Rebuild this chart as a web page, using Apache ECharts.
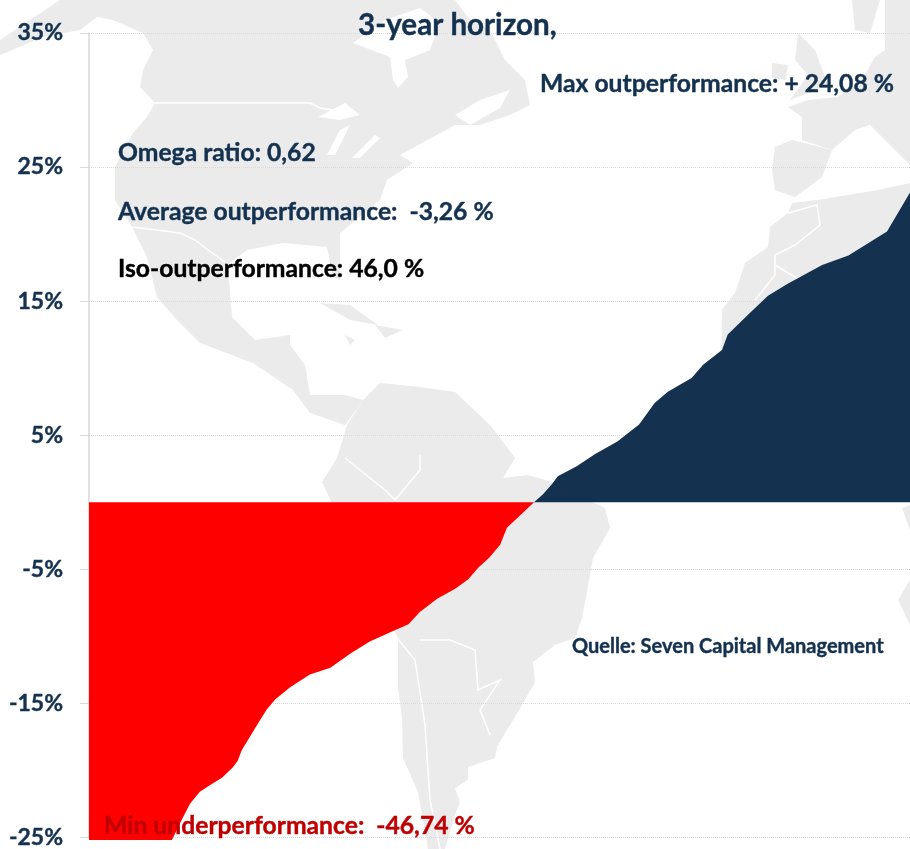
<!DOCTYPE html>
<html lang="en">

<head>
    <meta charset="UTF-8">
    <title>3-year horizon</title>
    <script src="https://cdn.jsdelivr.net/npm/echarts@6/dist/echarts.min.js"></script>
    <style>
        html, body { margin: 0; padding: 0; background: #fff; }
        #chart { width: 910px; height: 849px; }
    </style>
</head>

<body>
    <div id="chart"></div>
    <script>
        const underShare = [0, 10.1, 11.3, 12.3, 13.5, 14.9, 16.2, 17.5, 18.1, 18.6, 19.6, 20.6, 21.6, 22.7, 24.5, 26.9, 29.4, 31.8, 34.2, 36.7, 38.9, 40.3, 42.4, 44.6, 46.2, 47.4, 48.8, 50.1, 50.9, 52.3, 54.2];
        const underValues = [-25.2, -25.2, -23.7, -22.5, -21.6, -21.05, -20.55, -19.8, -19.3, -18.5, -17.5, -16.5, -15.5, -14.7, -13.8, -12.85, -12.35, -11.3, -10.4, -9.7, -9.1, -8.2, -7.2, -6.45, -5.75, -4.9, -4.1, -3.15, -1.9, -1.1, 0];
        const overShare = [54.2, 55.3, 56.4, 57.1, 59.4, 61.6, 64.4, 67.0, 68.9, 70.5, 73.4, 74.8, 77.1, 77.8, 80.3, 82.7, 85.1, 89.3, 92.5, 97.2, 100];
        const overValues = [0, 0.6, 1.35, 1.93, 2.68, 3.57, 4.54, 5.8, 7.4, 8.24, 9.26, 10.26, 11.35, 12.5, 14, 15.4, 16.3, 17.7, 18.4, 20.2, 23.1];
        const tickValues = [-25, -15, -5, 5, 15, 25, 35];

        const navy = '#14324f';
        const land = '#ebebeb';

        // background world map, rough outlines in page pixels
        const landShapes = [
            // north america
            [[0, 55], [43, 37], [80, 30], [97, 17], [113, 20], [143, 33], [153, 50], [143, 70], [140, 87], [155, 103], [147, 117], [133, 133], [115, 167], [115, 200], [132, 227], [147, 257], [157, 297], [177, 320], [200, 343], [253, 363], [293, 390], [310, 413], [345, 425], [363, 400], [345, 395], [310, 395], [305, 365], [290, 345], [290, 335], [255, 340], [232, 317], [230, 290], [227, 265], [247, 250], [283, 243], [327, 247], [333, 277], [340, 280], [340, 233], [380, 200], [387, 180], [413, 163], [400, 155], [455, 125], [480, 125], [510, 115], [530, 105], [525, 80], [505, 60], [490, 30], [470, 20], [455, 0], [130, 0], [60, 0], [15, 30], [0, 40]],
            // south america
            [[347, 425], [363, 400], [380, 383], [420, 387], [455, 392], [490, 425], [515, 458], [503, 478], [528, 475], [552, 482], [605, 508], [610, 528], [593, 558], [587, 592], [582, 618], [575, 638], [555, 645], [533, 662], [535, 682], [518, 712], [505, 733], [497, 747], [495, 758], [468, 767], [468, 780], [455, 788], [460, 802], [455, 815], [445, 849], [428, 849], [418, 792], [403, 758], [402, 718], [398, 688], [398, 638], [340, 520], [322, 482], [337, 458]],
            // iberia
            [[775, 147], [792, 140], [832, 150], [822, 177], [795, 197], [775, 190], [772, 170]],
            // europe
            [[788, 107], [808, 100], [838, 97], [862, 80], [875, 57], [885, 50], [885, 0], [910, 0], [910, 165], [895, 150], [870, 125], [855, 130], [832, 150], [802, 140], [802, 117]],
            // scandinavia
            [[852, 0], [880, 0], [870, 33], [855, 30]],
            // britain, ireland
            [[798, 33], [815, 50], [828, 85], [790, 100], [808, 75], [795, 60]],
            [[772, 63], [788, 65], [786, 80], [772, 78]],
            // africa
            [[792, 203], [817, 200], [878, 190], [910, 183], [910, 430], [720, 430], [722, 310], [735, 293], [745, 263], [768, 247], [770, 227], [788, 213]],
            [[910, 505], [902, 508], [910, 530]],
            [[910, 580], [898, 600], [910, 625]],
            // cuba, hispaniola
            [[320, 303], [350, 305], [378, 325], [350, 320]],
            [[375, 325], [403, 330], [385, 338]],
            [[345, 335], [355, 340], [350, 345]]
        ];
        const waterShapes = [
            // hudson bay
            [[353, 43], [390, 57], [393, 80], [398, 88], [408, 77], [405, 60], [430, 50], [440, 23], [420, 8], [385, 20]],
            // great lakes
            [[318, 117], [345, 103], [360, 115], [340, 120]],
            [[327, 155], [340, 130], [350, 125], [335, 155]],
            [[352, 158], [375, 135], [380, 138], [360, 158]],
            // gulf of st lawrence
            [[455, 115], [480, 100], [510, 90], [500, 108], [470, 125]]
        ];
        const borderLines = [
            [[155, 103], [310, 103], [320, 108], [345, 112]],
            [[132, 227], [180, 233], [195, 240], [208, 250], [225, 262]],
            [[397, 638], [415, 660], [425, 725], [430, 800], [440, 849]],
            [[345, 458], [385, 490], [395, 500], [420, 470], [420, 455]],
            [[420, 640], [450, 640], [475, 650], [478, 690], [500, 680], [480, 710], [490, 735]],
            [[788, 213], [817, 205], [820, 225], [795, 245], [775, 255], [775, 275], [755, 300]],
            [[775, 265], [800, 280]]
        ];

        function textItem(str, x, y, size, color) {
            return {
                type: 'text',
                z: 100,
                style: { text: str, x: x, y: y, fill: color, stroke: color, lineWidth: 0.4, font: 'bold ' + size + 'px Lato', textVerticalAlign: 'middle' }
            };
        }

        const mapGraphics = [];
        landShapes.forEach(function (pts) {
            mapGraphics.push({ type: 'polygon', z: -3, silent: true, shape: { points: pts }, style: { fill: land } });
        });
        waterShapes.forEach(function (pts) {
            mapGraphics.push({ type: 'polygon', z: -2, silent: true, shape: { points: pts }, style: { fill: '#fff' } });
        });
        borderLines.forEach(function (pts) {
            mapGraphics.push({ type: 'polyline', z: -2, silent: true, shape: { points: pts }, style: { stroke: '#fff', lineWidth: 1.5, fill: null } });
        });

        const myChart = echarts.init(document.getElementById('chart'));
        const option = {
            animation: false,
            backgroundColor: '#fff',
            grid: { left: 89, right: 0, top: 33, bottom: 10 },
            xAxis: { type: 'value', min: 0, max: 100, show: false },
            yAxis: {
                type: 'value',
                min: -25,
                max: 35,
                axisLine: { show: true, lineStyle: { color: '#d9d9d9', width: 1.5 } },
                axisTick: { show: true, length: 9, customValues: tickValues, lineStyle: { color: '#d9d9d9' } },
                axisLabel: {
                    customValues: tickValues,
                    margin: 26,
                    color: navy,
                    fontFamily: 'Lato',
                    fontWeight: 'bold',
                    fontSize: 23,
                    textBorderColor: navy,
                    textBorderWidth: 0.4,
                    formatter: function (v) { return v + '%'; }
                },
                splitLine: { show: true, lineStyle: { color: '#d9d9d9', type: 'dotted', width: 1 } }
            },
            series: [
                {
                    type: 'line',
                    clip: false,
                    symbol: 'none',
                    lineStyle: { width: 0 },
                    areaStyle: { color: '#ff0000', opacity: 1 },
                    data: underShare.map(function (s, i) { return [s, underValues[i]]; })
                },
                {
                    type: 'line',
                    clip: false,
                    symbol: 'none',
                    lineStyle: { width: 0 },
                    areaStyle: { color: navy, opacity: 1 },
                    data: overShare.map(function (s, i) { return [s, overValues[i]]; })
                }
            ],
            graphic: mapGraphics.concat([
                textItem('3-year horizon,', 358, 25, 29.6, navy),
                textItem('Max outperformance: + 24,08 %', 540, 84, 24.7, navy),
                textItem('Omega ratio: 0,62', 118, 153, 24.7, navy),
                textItem('Average outperformance:  -3,26 %', 118, 212, 24.7, navy),
                textItem('Iso-outperformance: 46,0 %', 118, 269, 24.7, '#000'),
                textItem('Quelle: Seven Capital Management', 572, 647, 20, navy),
                textItem('Min underperformance:  -46,74 %', 104, 826, 24.7, '#c00000')
            ])
        };
        myChart.setOption(option);
    </script>

</body>

</html>
